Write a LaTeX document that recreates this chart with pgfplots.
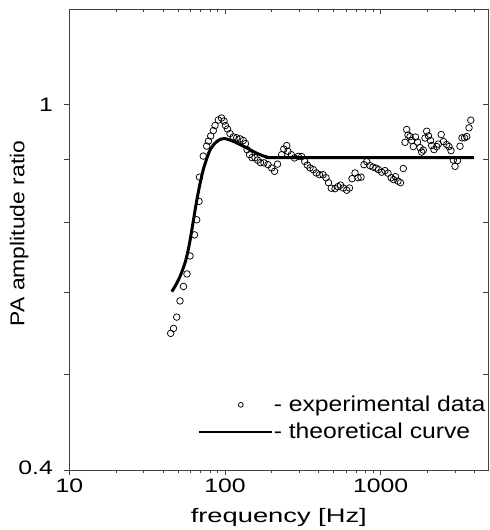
\documentclass[border=0pt]{standalone}
\usepackage{fontspec}
\setmainfont{Liberation Sans}[FakeStretch=1.15]
\newfontfamily\tickfont{Liberation Sans}[FakeStretch=1.27]
\newfontfamily\xlabfont{Liberation Sans}[FakeStretch=1.4]
\newfontfamily\legfont{Liberation Sans}[FakeStretch=1.15]
\newfontfamily\ylabfont{Liberation Sans}[FakeStretch=1.145]
\usepackage{pgfplots}
\usepackage{pgfplotstable}
\pgfplotsset{compat=1.18}

\pgfplotstableread{
f v
44.8 0.5639
46.7 0.5709
48.95 0.5873
51.4 0.6116
54.1 0.6342
57.0 0.6543
59.6 0.6845
63.7 0.7216
65.8 0.7494
68.1 0.7847
68.6 0.8337
72.5 0.8788
76.3 0.9011
78.3 0.9125
80.9 0.9240
84.1 0.9368
86.3 0.9487
90.6 0.9619
95.0 0.9667
98.5 0.9594
100.7 0.9487
103.8 0.9404
107.7 0.9298
113.1 0.9221
118.9 0.9199
124.9 0.9175
131.1 0.9137
135.4 0.9068
138.5 0.8932
143.7 0.8820
149.1 0.8754
155.8 0.8754
161.7 0.8700
169.0 0.8645
178.0 0.8640
188.9 0.8602
199.5 0.8532
208.0 0.8460
217.4 0.8613
231.3 0.8820
238.6 0.8943
249.1 0.9022
253.9 0.8893
266.6 0.8820
279.6 0.8747
295.6 0.8783
310.8 0.8777
325.0 0.8673
337.8 0.8592
351.5 0.8532
369.1 0.8495
385.9 0.8425
404.6 0.8388
426.1 0.8388
445.5 0.8325
462.2 0.8222
481.7 0.8109
508.8 0.8100
531.9 0.8141
551.9 0.8172
575.3 0.8113
604.9 0.8069
630.5 0.8113
654.3 0.8305
683.9 0.8425
715.0 0.8325
747.4 0.8337
781.2 0.8602
813.1 0.8667
853.8 0.8581
892.5 0.8549
932.9 0.8527
968.0 0.8495
1014.9 0.8441
1065.7 0.8474
1114.1 0.8420
1168 0.8325
1208.5 0.8286
1245 0.8347
1291.7 0.8254
1340.5 0.8222
1397.3 0.8519
1432.8 0.9096
1469 0.9392
1497.5 0.9264
1542.6 0.9228
1581.7 0.9137
1619.7 0.9000
1673.1 0.9217
1723.5 0.9102
1788.2 0.8977
1833.6 0.8877
1877.6 0.8921
1925.3 0.9194
1974.2 0.9352
2027.6 0.9244
2088.3 0.9137
2126 0.9022
2199.2 0.8932
2289 0.9000
2343.6 0.9057
2446.7 0.9275
2531 0.9114
2653.9 0.9046
2745.9 0.9000
2828 0.8909
2926 0.8700
3000.5 0.8566
3113.8 0.8690
3230.6 0.9007
3328 0.9199
3453 0.9199
3568 0.9228
3691.5 0.9432
3791.4 0.9614
}\expdata

\pgfplotstableread{
f v
45.5 0.626
47.7 0.634
51.4 0.650
55.4 0.673
57.85 0.693
59.6 0.711
61.4 0.7326
63.2 0.7549
65.1 0.7780
67.1 0.7998
69.1 0.8201
72.5 0.8494
76.3 0.8731
80.1 0.8921
86.3 0.9079
92.9 0.916
100 0.918
113 0.912
131 0.901
152 0.889
168 0.882
190 0.876
230 0.8755
3974 0.8755
}\theory

\pgfplotsset{
  explegend/.style={legend image code/.code={\path[draw=none,fill=none] (0bp,0bp) rectangle (73bp,0.1bp); \draw[##1, mark size=2.4bp] plot coordinates {(42bp,0bp)};}},
  thlegend/.style={legend image code/.code={\draw[##1, line width=2bp] (0bp,0bp) -- (73bp,0bp);}},
}

\begin{document}
\begin{tikzpicture}
\begin{axis}[scale only axis, width=419bp, height=461.2bp,
  xmode=log, ymode=log, xmin=10, xmax=4910, ymin=0.4, ymax=1.269,
  xtick={10,100,1000},
  minor xtick={20,30,40,50,60,70,80,90,200,300,400,500,600,700,800,900,2000,3000,4000},
  ytick={0.4,0.509,0.624,0.744,0.871,1}, yminorticks=false,
  major tick length=5bp, minor tick length=3bp,
  axis line style={black!75, line width=0.8bp},
  tick style={black!75, line width=0.8bp},
  axis x line*=top, axis y line*=right, tick align=inside,
  xticklabels={}, yticklabels={}]
\addplot[draw=none, forget plot] table[x=f, y=v] {\theory};
\end{axis}
\begin{axis}[scale only axis, width=419bp, height=461.2bp,
  xmode=log, ymode=log, xmin=10, xmax=4910, ymin=0.4, ymax=1.269,
  xtick={10,100,1000},
  minor xtick={20,30,40,50,60,70,80,90,200,300,400,500,600,700,800,900,2000,3000,4000},
  ytick={0.4,0.509,0.624,0.744,0.871,1}, yminorticks=false,
  major tick length=5bp, minor tick length=3bp,
  axis line style={black!75, line width=0.8bp},
  tick style={black!75, line width=0.8bp},
  clip=false,
  axis x line*=bottom, axis y line*=left, tick align=outside,
  xticklabels={10,100,1000},
  yticklabels={{\raisebox{5bp}{0.4}},,,,,1},
  tick label style={font=\tickfont\fontsize{19.5bp}{23bp}\selectfont},
  yticklabel style={xshift=-8bp},
  xlabel={frequency [Hz]}, ylabel={PA amplitude ratio},
  xlabel style={font=\xlabfont\fontsize{19.5bp}{23bp}\selectfont},
  ylabel style={font=\ylabfont\fontsize{20bp}{24bp}\selectfont, at={(ticklabel cs:0.514)}},
  xlabel shift=9bp, ylabel shift=-17bp,
  legend style={draw=none, fill=none, font=\legfont\fontsize{21.5bp}{25bp}\selectfont,
    at={(rel axis cs:0.299,0.170)}, anchor=north west, row sep=6bp,
    nodes={inner xsep=1bp}},
  legend cell align=left,
]
\addplot[only marks, mark=o, mark size=3.3bp, black, line width=0.75bp, explegend]
  table[x=f, y=v] {\expdata};
\addlegendentry{- experimental data}
\addplot[black, line width=3bp, smooth, thlegend]
  table[x=f, y=v] {\theory};
\addlegendentry{- theoretical curve}
\coordinate (sw) at (rel axis cs:0,0);
\end{axis}
\pgfresetboundingbox
\path ([shift={(-69.3bp,-59.5bp)}]sw) rectangle ++(490bp,530bp);
\end{tikzpicture}
\end{document}
